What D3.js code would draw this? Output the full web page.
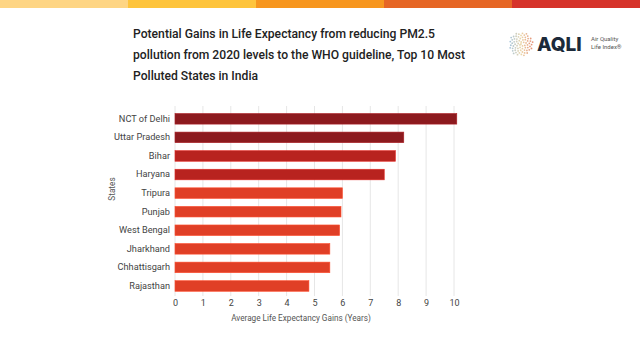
<!DOCTYPE html>
<html><head><meta charset="utf-8">
<script src="https://cdn.jsdelivr.net/npm/d3@7"></script>
<style>
html,body{margin:0;padding:0;background:#fff;}
svg{display:block;font-family:Roboto, Inter, sans-serif;}
</style></head>
<body><svg id="c" width="640" height="360"></svg>
<script>
const states = ["NCT of Delhi","Uttar Pradesh","Bihar","Haryana","Tripura","Punjab","West Bengal","Jharkhand","Chhattisgarh","Rajasthan"];
const gains = [10.1, 8.2, 7.9, 7.5, 6.0, 5.95, 5.9, 5.55, 5.55, 4.8];
const tierColors = ["#8c1a1e","#8c1a1e","#b8231f","#b8231f","#e03f26","#e03f26","#e03f26","#e03f26","#e03f26","#e03f26"];
const xTicks = [0,1,2,3,4,5,6,7,8,9,10];
const stripeColors = ["#fed584","#fec43c","#f7961e","#e66625","#d6332a"];
const titleLines = ["Potential Gains in Life Expectancy from reducing PM2.5","pollution from 2020 levels to the WHO guideline, Top 10 Most","Polluted States in India"];
const titleWidths = [302, 332, 125];

const svg = d3.select("#c");

// top stripe
const sx = d3.scaleBand().domain(d3.range(stripeColors.length)).range([0,640]);
svg.selectAll("rect.stripe").data(stripeColors).join("rect")
  .attr("x",(d,i)=>sx(i)).attr("y",0).attr("width",sx.bandwidth()+0.5).attr("height",8).attr("fill",d=>d);

// title
svg.append("g").selectAll("text").data(titleLines).join("text")
  .attr("x",133).attr("y",(d,i)=>38+i*21)
  .attr("font-size",13).attr("font-weight",500).attr("fill","#222")
  .attr("textLength",(d,i)=>titleWidths[i]).attr("lengthAdjust","spacingAndGlyphs")
  .text(d=>d);

// logo
const lg = svg.append("g").attr("transform","translate(521,44)");
const logoCols = d3.scaleLinear().domain([0,0.5,1]).range(["#8fb8d8","#e8cf9a","#e0795a"]);
for(let i=0;i<70;i++){
  const r = 12*Math.sqrt(i/70), a = i*2.39996;
  lg.append("circle").attr("cx",r*Math.cos(a)).attr("cy",r*Math.sin(a)).attr("r",0.9)
    .attr("fill",logoCols((Math.cos(a)*r/12+1)/2)).attr("opacity",0.85);
}
svg.append("text").attr("x",537).attr("y",51).attr("font-size",19).attr("font-weight",800)
  .attr("fill","#1c2a3a").attr("font-family","Inter, sans-serif").text("AQLI");
svg.append("text").attr("x",591).attr("y",41).attr("font-size",6).attr("fill","#555").text("Air Quality");
svg.append("text").attr("x",591).attr("y",49).attr("font-size",6).attr("fill","#555").text("Life Index®");

// scales
const x = d3.scaleLinear().domain([0,10]).range([175,454]);
const y = d3.scaleBand().domain(states).range([108.5,296.3]).paddingInner(0.43).paddingOuter(0.27);

// grid
svg.append("g").selectAll("line").data(xTicks).join("line")
  .attr("x1",d=>x(d)).attr("x2",d=>x(d)).attr("y1",106).attr("y2",296)
  .attr("stroke","#e6e6e6").attr("stroke-width",1);

// bars
svg.append("g").selectAll("rect").data(states).join("rect")
  .attr("x",x(0)).attr("y",d=>y(d))
  .attr("width",(d,i)=>x(gains[i])-x(0)).attr("height",y.bandwidth())
  .attr("fill",(d,i)=>tierColors[i])
  .attr("stroke",(d,i)=>d3.color(tierColors[i]).brighter(0.6)).attr("stroke-width",0.6);

// y axis labels
const yAxis = d3.axisLeft(y).tickSize(0).tickPadding(4);
const gy = svg.append("g").attr("transform",`translate(${x(0)-1},0)`).call(yAxis);
gy.select(".domain").remove();
gy.selectAll("text").attr("font-size",9.2).attr("fill","#444").attr("font-family","Roboto, sans-serif");

// x axis
const xAxis = d3.axisBottom(x).tickValues(xTicks).tickSize(0).tickPadding(0);
const gx = svg.append("g").attr("transform","translate(0,298)").call(xAxis);
gx.select(".domain").remove();
gx.selectAll("text").attr("font-size",9).attr("fill","#444").attr("font-family","Roboto, sans-serif").attr("dy","0.9em");

// axis titles
svg.append("text").attr("x",301).attr("y",321).attr("text-anchor","middle")
  .attr("font-size",8.2).attr("fill","#555").text("Average Life Expectancy Gains (Years)");
svg.append("text").attr("transform","translate(115,189) rotate(-90)").attr("text-anchor","middle")
  .attr("font-size",8.2).attr("fill","#555").text("States");
</script></body></html>
